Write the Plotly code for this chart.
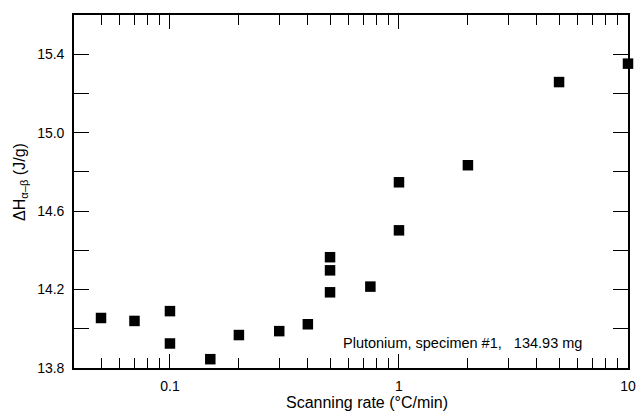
import plotly.graph_objects as go

scan_rate = [0.05, 0.07, 0.1, 0.1, 0.15, 0.2, 0.3, 0.4, 0.5, 0.5, 0.5, 0.75, 1, 1, 2, 5, 10]
delta_h = [14.055, 14.04, 14.09, 13.925, 13.845, 13.968, 13.988, 14.023,
           14.365, 14.298, 14.186, 14.215, 14.502, 14.747, 14.834, 15.258, 15.352]

x_ticks = [0.1, 1, 10]
x_tick_text = ["0.1", "1", "10"]
x_minor_ticks = [0.05, 0.06, 0.07, 0.08, 0.09,
                 0.2, 0.3, 0.4, 0.5, 0.6, 0.7, 0.8, 0.9,
                 2, 3, 4, 5, 6, 7, 8, 9]
y_ticks = [13.8, 14.2, 14.6, 15.0, 15.4]
y_tick_text = ["13.8", "14.2", "14.6", "15.0", "15.4"]

font = "Liberation Sans, Arial, Helvetica, sans-serif"

fig = go.Figure()
fig.add_trace(go.Scatter(
    x=scan_rate, y=delta_h, mode="markers",
    marker=dict(symbol="square", size=10.5, color="black", line=dict(width=0)),
    showlegend=False, cliponaxis=False,
))

fig.add_annotation(
    x=0.702, y=0.071, xref="paper", yref="paper",
    text="Plutonium, specimen #1,\u00a0\u00a0\u00a0134.93 mg", showarrow=False,
    font=dict(size=14.5, color="black", family=font), xanchor="center", yanchor="middle",
)
fig.add_annotation(
    x=0.529, y=-0.099, xref="paper", yref="paper",
    text="Scanning rate (°C/min)", showarrow=False,
    font=dict(size=16, color="black", family=font), xanchor="center", yanchor="middle",
)
fig.add_annotation(
    x=-0.0957, y=0.527, xref="paper", yref="paper",
    text="ΔH<sub>α–β</sub> (J/g)", showarrow=False, textangle=-90,
    font=dict(size=16, color="black", family=font), xanchor="center", yanchor="middle",
)

fig.update_xaxes(
    type="log", range=[-1.419, 1.0], automargin=False,
    tickmode="array", tickvals=x_ticks, ticktext=x_tick_text,
    ticks="inside", ticklen=14, tickwidth=1.3, tickcolor="black",
    minor=dict(ticks="inside", ticklen=10, tickwidth=1.3, tickcolor="black",
               tickmode="array", tickvals=x_minor_ticks, showgrid=False),
    showline=True, linecolor="black", linewidth=1.6, mirror="allticks",
    showgrid=False, zeroline=False, ticklabeloverflow="allow",
    tickfont=dict(size=14, color="black", family=font), ticklabelstandoff=4,
)
fig.update_yaxes(
    range=[13.8, 15.6], automargin=False,
    tickmode="array", tickvals=y_ticks, ticktext=y_tick_text,
    ticks="inside", ticklen=15, tickwidth=1.3, tickcolor="black",
    minor=dict(ticks="inside", ticklen=15, tickwidth=1.3, tickcolor="black", dtick=0.2, tick0=13.8, showgrid=False),
    showline=True, linecolor="black", linewidth=1.6, mirror="allticks",
    showgrid=False, zeroline=False, ticklabeloverflow="allow",
    tickfont=dict(size=14, color="black", family=font), ticklabelstandoff=5,
)

fig.update_layout(
    width=636, height=419,
    margin=dict(l=74, r=8, t=15, b=51),
    paper_bgcolor="white", plot_bgcolor="white",
    font=dict(family=font, color="black"),
)

fig.write_html(
    "out.html",
    config={"displayModeBar": False},
    post_script="document.body.style.margin='0';document.body.style.overflow='hidden';",
)
